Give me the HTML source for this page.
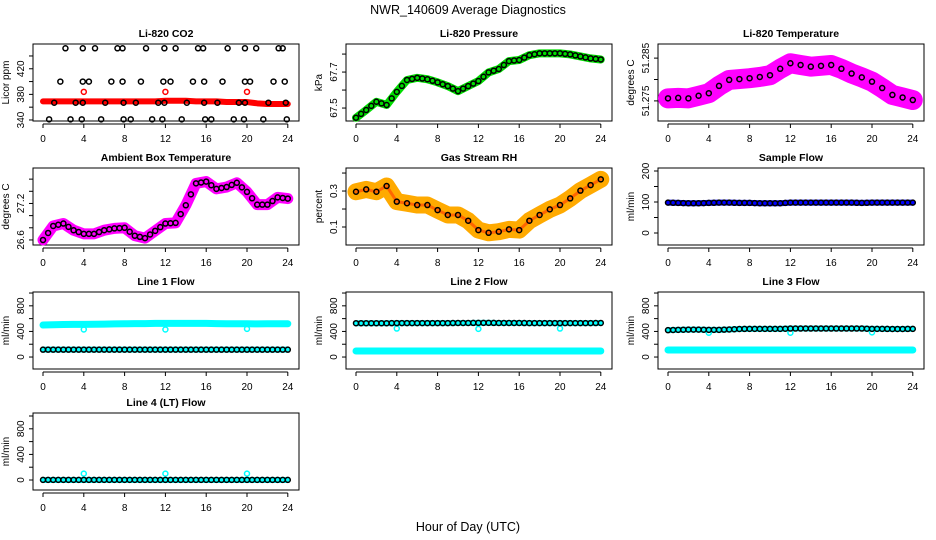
<!DOCTYPE html>
<html><head><meta charset="utf-8"><style>
html,body{margin:0;padding:0;background:#fff}
svg{display:block;font-family:"Liberation Sans",Helvetica,Arial,sans-serif}
</style></head><body>
<svg id="chart" width="936" height="540" viewBox="0 0 936 540">
<text x="468" y="14" font-size="12.5" text-anchor="middle">NWR_140609  Average Diagnostics</text>
<text x="468" y="531" font-size="12.5" text-anchor="middle">Hour of Day (UTC)</text>
</svg>
<script>
// ---- data ----
const hours = [0,1,2,3,4,5,6,7,8,9,10,11,12,13,14,15,16,17,18,19,20,21,22,23,24];
const xTicks = [0,4,8,12,16,20,24];

const co2Red = [369,369,369,369,369,369,369,369,369,369,369,369,370,370,370,369,369,369,368,368,368,366,365,365,365];
const co2BlackX = [2.2,3.9,5.1,7.3,7.8,10.1,11.9,13.0,15.2,15.7,18.1,19.8,20.9,23.1,23.5,
  1.7,3.9,4.5,6.7,7.8,9.6,11.8,12.5,14.7,15.8,17.6,19.8,20.3,22.6,23.7,
  1.1,3.2,3.9,6.1,7.9,9.1,11.3,11.9,14.1,15.8,17.1,19.2,19.8,22.1,23.8,
  0.6,2.7,3.8,5.7,7.9,8.6,10.7,11.7,13.6,15.9,16.5,18.7,19.7,21.6,23.9];
const co2BlackY = [452,452,452,452,452,452,452,452,452,452,452,452,452,452,452,
  400,400,400,400,400,400,400,400,400,400,400,400,400,400,400,
  367,367,367,367,367,367,367,367,367,367,367,367,367,367,367,
  341,341,341,341,341,341,341,341,341,341,341,341,341,341,341];
const outlierHours = [4,12,20];
const co2Outliers = [384,384,384];

const pressure = [67.446,67.489,67.535,67.517,67.59,67.656,67.668,67.66,67.643,67.622,67.594,67.622,67.65,67.698,67.717,67.761,67.767,67.794,67.804,67.804,67.804,67.798,67.787,67.776,67.77];
const licorTemp = [51.2756,51.2757,51.2756,51.2762,51.2768,51.2785,51.2799,51.2801,51.2803,51.2806,51.2810,51.2825,51.2838,51.2834,51.2830,51.2832,51.2834,51.2825,51.2814,51.2805,51.2795,51.2780,51.2764,51.2758,51.2752];
const ambient = [26.6,26.83,26.87,26.76,26.70,26.70,26.76,26.79,26.80,26.67,26.63,26.75,26.87,26.88,27.17,27.53,27.56,27.44,27.47,27.54,27.39,27.18,27.18,27.30,27.28];
const rh = [0.296,0.309,0.296,0.328,0.241,0.232,0.222,0.222,0.194,0.167,0.167,0.135,0.083,0.068,0.074,0.087,0.083,0.135,0.167,0.198,0.222,0.259,0.302,0.333,0.365];
const sampleFlow = [98,97,96,96,97,98,98,97,97,96,96,96,98,98,98,98,98,98,98,97,98,98,98,98,98];

const line1Cyan = [500,505,508,510,510,512,515,518,520,522,522,525,525,525,525,525,525,522,520,520,520,518,520,520,520];
const line1Black = [115,115,115,115,115,115,115,115,115,115,115,115,115,115,115,115,115,115,115,115,115,115,115,115,115];
const line1Out = [430,430,440];
const line2Cyan = [94,94,94,94,94,94,94,94,94,94,94,94,94,94,94,94,94,94,94,94,94,94,94,94,94];
const line2Black = [528,528,528,528,530,530,530,530,530,530,532,532,534,534,532,532,532,530,530,530,530,530,530,530,532];
const line2Out = [445,440,445];
const line3Cyan = [110,110,110,110,110,110,110,110,110,110,110,110,110,110,110,110,110,110,110,110,110,110,110,110,110];
const line3Black = [420,425,428,428,425,425,430,438,440,440,440,440,445,445,445,445,445,445,445,445,440,440,438,438,440];
const line3Out = [380,380,385];
const line4Cyan = [0,0,0,0,0,0,0,0,0,0,0,0,0,0,0,0,0,0,0,0,0,0,0,0,0];
const line4Black = [2,2,2,2,2,2,2,2,2,2,2,2,2,2,2,2,2,2,2,2,2,2,2,2,2];
const line4Out = [100,100,100];

// ---- layout ----
const NS = "http://www.w3.org/2000/svg";
const svg = document.getElementById('chart');
const colL = [33,346,658], rowT = [44,168,292,413], BW = 266, BH = 77;
function mk(tag, at, parent){const e=document.createElementNS(NS,tag);for(const k in at)e.setAttribute(k,at[k]);(parent||svg).appendChild(e);return e;}

function panel(o){
  const L=colL[o.col], T=rowT[o.row], B=T+BH;
  const g=mk('g',{});
  
  
  const x=h=>L+10+h*10.2;
  const y=v=>B-(v-o.ymin)/(o.ymax-o.ymin)*BH;
  const t=mk('text',{x:L+BW/2,y:T-7,'font-size':10.5,'font-weight':'bold','text-anchor':'middle'},g);
  t.textContent=o.title;
  
  
  const box=mk('rect',{x:L,y:T,width:BW,height:BH,fill:'none',stroke:'#000','stroke-width':1},g);
  
  
  mk('line',{x1:x(0),x2:x(24),y1:B+3,y2:B+3,stroke:'#000'},g);
  xTicks.forEach(h=>{
    mk('line',{x1:x(h),x2:x(h),y1:B+3,y2:B+7,stroke:'#000'},g);
    const tl=mk('text',{x:x(h),y:B+21,'font-size':10,'text-anchor':'middle'},g);
    tl.textContent=h;
    
    
  });
  const yt=o.yticks;
  mk('line',{x1:L,x2:L,y1:y(yt[0]),y2:y(yt[yt.length-1]),stroke:'#000'},g);
  yt.forEach((v,i)=>{
    mk('line',{x1:L-4,x2:L,y1:y(v),y2:y(v),stroke:'#000'},g);
    if(o.ylabels[i]!==''){
      const yl=mk('text',{x:0,y:0,'font-size':10,'text-anchor':'middle',transform:`translate(${L-9},${y(v)}) rotate(-90)`},g);
      yl.textContent=o.ylabels[i];
      
      
    }
  });
  const at=mk('text',{x:0,y:0,'font-size':10,'text-anchor':'middle',transform:`translate(${L-24},${T+BH/2}) rotate(-90)`},g);
  at.textContent=o.ylab;
  
  
  const clip=mk('g',{},g);
  return {g:clip,x,y};
}
function band(P,xs,vals,color,w,name){
  const pl=mk('polyline',{points:xs.map((h,i)=>P.x(h)+','+P.y(vals[i])).join(' '),fill:'none',stroke:color,'stroke-width':w,'stroke-linejoin':'round','stroke-linecap':'round'},P.g);
  
  
}
function pts(P,xs,vals,color,name,r){
  xs.forEach((h,i)=>{
    const c=mk('circle',{cx:P.x(h),cy:P.y(vals[i]),r:r||2.5,fill:'none',stroke:color,'stroke-width':1.5},P.g);
    
    
  });
}
function densePts(P,vals,color,name){
  for(let i=0;i<hours.length;i++){
    pts(P,[hours[i]],[vals[i]],color,name);
    if(i<hours.length-1) pts(P,[(hours[i]+hours[i+1])/2],[(vals[i]+vals[i+1])/2],color,name);
  }
}

let P=panel({name:'co2',col:0,row:0,title:'Li-820 CO2',ylab:'Licor ppm',ymin:338.4,ymax:458.7,yticks:[340,360,380,400,420,440],ylabels:['340','','380','','420','']});
band(P,hours,co2Red,'#ff0000',6,'co2-red-series');
pts(P,outlierHours,co2Outliers,'#ff0000','co2-outlier');
pts(P,co2BlackX,co2BlackY,'#000','co2-black-point');

P=panel({name:'pressure',col:1,row:0,title:'Li-820 Pressure',ylab:'kPa',ymin:67.428,ymax:67.856,yticks:[67.5,67.6,67.7,67.8],ylabels:['67.5','','67.7','']});
band(P,hours,pressure,'#00dd00',8,'pressure-green-series');
densePts(P,pressure,'#000','pressure-black-point');

P=panel({name:'licor-temp',col:2,row:0,title:'Li-820 Temperature',ylab:'degrees C',ymin:51.2703,ymax:51.2883,yticks:[51.275,51.28,51.285],ylabels:['51.275','','51.285']});
band(P,hours,licorTemp,'#ff00ff',20,'licor-temp-magenta-series');
pts(P,hours,licorTemp,'#000','licor-temp-black-point');

P=panel({name:'ambient',col:0,row:1,title:'Ambient Box Temperature',ylab:'degrees C',ymin:26.517,ymax:27.783,yticks:[26.6,26.8,27.0,27.2,27.4,27.6],ylabels:['26.6','','','27.2','','']});
band(P,hours,ambient,'#ff00ff',11,'ambient-magenta-series');
densePts(P,ambient,'#000','ambient-black-point');

P=panel({name:'rh',col:1,row:1,title:'Gas Stream RH',ylab:'percent',ymin:0.0,ymax:0.428,yticks:[0.1,0.2,0.3,0.4],ylabels:['0.1','','0.3','']});
band(P,hours,rh,'#ffaa00',17,'rh-orange-series');
band(P,hours,rh,'#ff6600',3,'rh-red-speckle');
pts(P,hours,rh,'#000','rh-black-point');

P=panel({name:'sample-flow',col:2,row:1,title:'Sample Flow',ylab:'ml/min',ymin:-38.7,ymax:209.7,yticks:[0,50,100,150,200],ylabels:['0','','100','','200']});
band(P,hours,sampleFlow,'#0000ff',6,'sample-flow-blue-series');
densePts(P,sampleFlow,'#000','sample-flow-black-point');

const flowTicks=[0,200,400,600,800,1000], flowLabels=['0','','400','','800',''];
P=panel({name:'line1-flow',col:0,row:2,title:'Line 1 Flow',ylab:'ml/min',ymin:-187,ymax:1016,yticks:flowTicks,ylabels:flowLabels});
band(P,hours,line1Cyan,'#00ffff',7,'line1-cyan-series');
band(P,hours,line1Black,'#00ffff',6,'line1-cyan-low-series');
pts(P,outlierHours,line1Out,'#00ffff','line1-outlier');
densePts(P,line1Black,'#000','line1-black-point');

P=panel({name:'line2-flow',col:1,row:2,title:'Line 2 Flow',ylab:'ml/min',ymin:-187,ymax:1016,yticks:flowTicks,ylabels:flowLabels});
band(P,hours,line2Cyan,'#00ffff',7,'line2-cyan-series');
band(P,hours,line2Black,'#00ffff',6,'line2-cyan-high-series');
pts(P,outlierHours,line2Out,'#00ffff','line2-outlier');
densePts(P,line2Black,'#000','line2-black-point');

P=panel({name:'line3-flow',col:2,row:2,title:'Line 3 Flow',ylab:'ml/min',ymin:-187,ymax:1016,yticks:flowTicks,ylabels:flowLabels});
band(P,hours,line3Cyan,'#00ffff',7,'line3-cyan-series');
band(P,hours,line3Black,'#00ffff',6,'line3-cyan-high-series');
pts(P,outlierHours,line3Out,'#00ffff','line3-outlier');
densePts(P,line3Black,'#000','line3-black-point');

P=panel({name:'line4-flow',col:0,row:3,title:'Line 4 (LT) Flow',ylab:'ml/min',ymin:-156,ymax:1047,yticks:flowTicks,ylabels:flowLabels});
band(P,hours,line4Cyan,'#00ffff',6,'line4-cyan-series');
pts(P,outlierHours,line4Out,'#00ffff','line4-outlier');
densePts(P,line4Black,'#000','line4-black-point');
</script>
</body></html>
